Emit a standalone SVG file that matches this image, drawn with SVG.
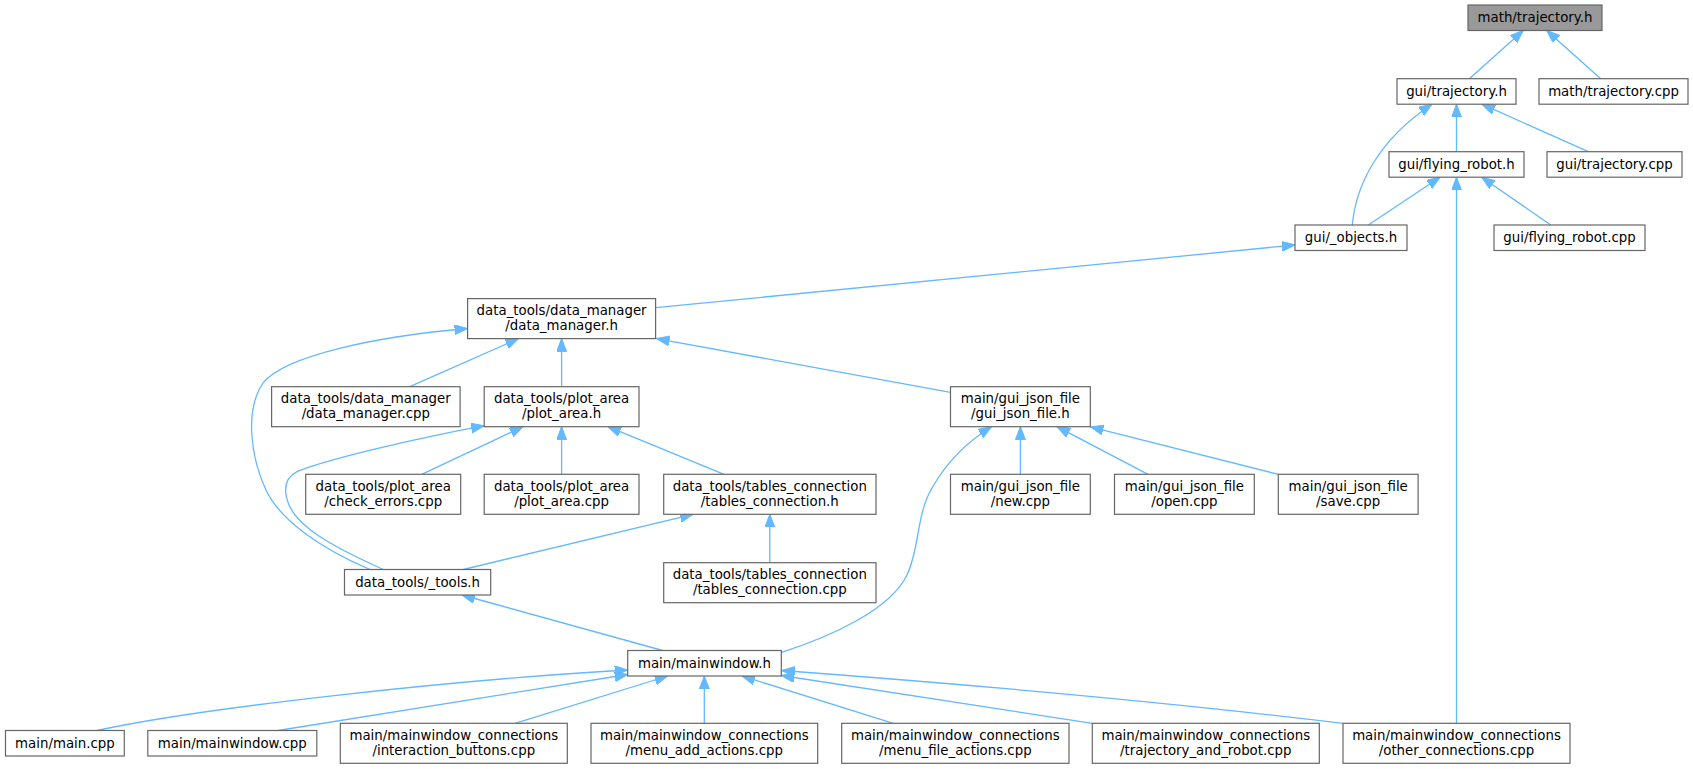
<svg xmlns="http://www.w3.org/2000/svg" width="1693" height="769" viewBox="0 0 1693 769">
<defs>
<marker id="ah" markerUnits="userSpaceOnUse" markerWidth="14" markerHeight="11" refX="13" refY="5" orient="auto" viewBox="0 0 14 11">
<path d="M0,0 L13,5 L0,10 z" fill="#63b8ff" stroke="#63b8ff" stroke-width="1"/>
</marker>
</defs>
<style>
.n rect{fill:#ffffff;stroke:#666666;stroke-width:1.2}
.n.root rect{fill:#999999}
.n text{font-family:"DejaVu Sans","Liberation Sans",sans-serif;font-size:13.33px;text-anchor:middle;fill:#000000}
#edges path{fill:none;stroke:#63b8ff;stroke-width:1.3;marker-end:url(#ah)}
</style>
<rect x="0" y="0" width="1693" height="769" fill="#ffffff"/>
<g id="edges">
<path d="M1469.3,78.7 L1523.3,30.5"/>
<path d="M1600.7,78.7 L1546.7,30.5"/>
<path d="M1352.3,225 C1356,185 1378,140 1432,104.2"/>
<path d="M1456.5,151.7 L1456.5,104.2"/>
<path d="M1588.3,151.7 L1482,104.2"/>
<path d="M1368.3,225 L1440,177.2"/>
<path d="M1550.7,225 L1481.7,177.2"/>
<path d="M1456.5,723.3 L1456.5,177.2"/>
<path d="M655.7,307.7 L1295,245"/>
<path d="M409.8,386.7 L518.5,338.6"/>
<path d="M561.6,386.7 L561.6,338.6"/>
<path d="M950.5,392.3 L656.5,338.6"/>
<path d="M370,569.5 C320,548 280,520 266,490 C250,455 245,410 263,383 C285,355 380,336 467.6,328.5"/>
<path d="M383.3,569.5 C340,550 300,530 289,505 C283,490 285,478 297,471.7 C330,458 420,438 484.2,425.7"/>
<path d="M421.7,474.3 L523,426.7"/>
<path d="M561.6,474.3 L561.6,426.7"/>
<path d="M724,474.3 L608,426.7"/>
<path d="M463.3,569.5 L693,514.3"/>
<path d="M769.8,562.7 L769.8,514.3"/>
<path d="M781.5,652.3 C830,637 890,610 907,575 C920,548 916,515 932,488 C945,465 965,443 991.5,426.7"/>
<path d="M1020.4,474.3 L1020.4,426.7"/>
<path d="M1148,474.3 L1057,426.7"/>
<path d="M1278.3,474.3 L1090.5,426.9"/>
<path d="M662.7,650.5 L462,595"/>
<path d="M97,730.5 C200,708 450,680 627.7,670"/>
<path d="M278,730.5 C400,712 520,692 627.7,674.5"/>
<path d="M515,723.3 L667.7,676"/>
<path d="M704.3,723.3 L704.3,676"/>
<path d="M893.3,723.3 L742,676"/>
<path d="M1092.3,723.3 L781.3,675.5"/>
<path d="M1343,723.3 C1150,700 950,683 781.7,670.5"/>
</g>
<g id="n_math_trajectory_h" class="n root"><rect x="1468" y="5" width="134" height="25.5"/><text x="1535" y="22.3">math/trajectory.h</text></g>
<g id="n_gui_trajectory_h" class="n"><rect x="1397" y="78.7" width="119" height="25.5"/><text x="1456.5" y="96">gui/trajectory.h</text></g>
<g id="n_math_trajectory_cpp" class="n"><rect x="1539" y="78.7" width="149" height="25.5"/><text x="1613.5" y="96">math/trajectory.cpp</text></g>
<g id="n_gui_flying_robot_h" class="n"><rect x="1389" y="151.7" width="135" height="25.5"/><text x="1456.5" y="169">gui/flying_robot.h</text></g>
<g id="n_gui_trajectory_cpp" class="n"><rect x="1547" y="151.7" width="135" height="25.5"/><text x="1614.5" y="169">gui/trajectory.cpp</text></g>
<g id="n_gui_objects_h" class="n"><rect x="1295" y="225" width="112" height="25.5"/><text x="1351" y="242.3">gui/_objects.h</text></g>
<g id="n_gui_flying_robot_cpp" class="n"><rect x="1494" y="225" width="151" height="25.5"/><text x="1569.5" y="242.3">gui/flying_robot.cpp</text></g>
<g id="n_data_manager_h" class="n"><rect x="467.6" y="298.6" width="188" height="40"/><text x="561.6" y="315.1">data_tools/data_manager</text><text x="561.6" y="330.1">/data_manager.h</text></g>
<g id="n_data_manager_cpp" class="n"><rect x="271.6" y="386.7" width="188.5" height="40"/><text x="365.8" y="403.2">data_tools/data_manager</text><text x="365.8" y="418.2">/data_manager.cpp</text></g>
<g id="n_plot_area_h" class="n"><rect x="484.2" y="386.7" width="154.8" height="40"/><text x="561.6" y="403.2">data_tools/plot_area</text><text x="561.6" y="418.2">/plot_area.h</text></g>
<g id="n_gui_json_file_h" class="n"><rect x="950.5" y="386.7" width="139.8" height="40"/><text x="1020.4" y="403.2">main/gui_json_file</text><text x="1020.4" y="418.2">/gui_json_file.h</text></g>
<g id="n_check_errors_cpp" class="n"><rect x="305.7" y="474.3" width="155" height="40"/><text x="383.2" y="490.8">data_tools/plot_area</text><text x="383.2" y="505.8">/check_errors.cpp</text></g>
<g id="n_plot_area_cpp" class="n"><rect x="484.2" y="474.3" width="154.8" height="40"/><text x="561.6" y="490.8">data_tools/plot_area</text><text x="561.6" y="505.8">/plot_area.cpp</text></g>
<g id="n_tables_connection_h" class="n"><rect x="663.7" y="474.3" width="212.3" height="40"/><text x="769.8" y="490.8">data_tools/tables_connection</text><text x="769.8" y="505.8">/tables_connection.h</text></g>
<g id="n_new_cpp" class="n"><rect x="950.5" y="474.3" width="139.8" height="40"/><text x="1020.4" y="490.8">main/gui_json_file</text><text x="1020.4" y="505.8">/new.cpp</text></g>
<g id="n_open_cpp" class="n"><rect x="1114.5" y="474.3" width="139.8" height="40"/><text x="1184.4" y="490.8">main/gui_json_file</text><text x="1184.4" y="505.8">/open.cpp</text></g>
<g id="n_save_cpp" class="n"><rect x="1278.3" y="474.3" width="139.8" height="40"/><text x="1348.2" y="490.8">main/gui_json_file</text><text x="1348.2" y="505.8">/save.cpp</text></g>
<g id="n_tools_h" class="n"><rect x="344.5" y="569.5" width="146.2" height="25.5"/><text x="417.6" y="586.8">data_tools/_tools.h</text></g>
<g id="n_tables_connection_cpp" class="n"><rect x="663.7" y="562.7" width="212.3" height="40"/><text x="769.8" y="579.2">data_tools/tables_connection</text><text x="769.8" y="594.2">/tables_connection.cpp</text></g>
<g id="n_mainwindow_h" class="n"><rect x="627.7" y="650.5" width="153.6" height="25.5"/><text x="704.5" y="667.8">main/mainwindow.h</text></g>
<g id="n_main_cpp" class="n"><rect x="5.5" y="730.5" width="118.8" height="25.5"/><text x="64.9" y="747.8">main/main.cpp</text></g>
<g id="n_mainwindow_cpp" class="n"><rect x="147.8" y="730.5" width="169" height="25.5"/><text x="232.3" y="747.8">main/mainwindow.cpp</text></g>
<g id="n_interaction_buttons_cpp" class="n"><rect x="340.3" y="723.3" width="227" height="40"/><text x="453.8" y="739.8">main/mainwindow_connections</text><text x="453.8" y="754.8">/interaction_buttons.cpp</text></g>
<g id="n_menu_add_actions_cpp" class="n"><rect x="591" y="723.3" width="226.7" height="40"/><text x="704.3" y="739.8">main/mainwindow_connections</text><text x="704.3" y="754.8">/menu_add_actions.cpp</text></g>
<g id="n_menu_file_actions_cpp" class="n"><rect x="841.7" y="723.3" width="227.3" height="40"/><text x="955.3" y="739.8">main/mainwindow_connections</text><text x="955.3" y="754.8">/menu_file_actions.cpp</text></g>
<g id="n_trajectory_and_robot_cpp" class="n"><rect x="1092.3" y="723.3" width="227" height="40"/><text x="1205.8" y="739.8">main/mainwindow_connections</text><text x="1205.8" y="754.8">/trajectory_and_robot.cpp</text></g>
<g id="n_other_connections_cpp" class="n"><rect x="1343" y="723.3" width="227" height="40"/><text x="1456.5" y="739.8">main/mainwindow_connections</text><text x="1456.5" y="754.8">/other_connections.cpp</text></g>
</svg>
